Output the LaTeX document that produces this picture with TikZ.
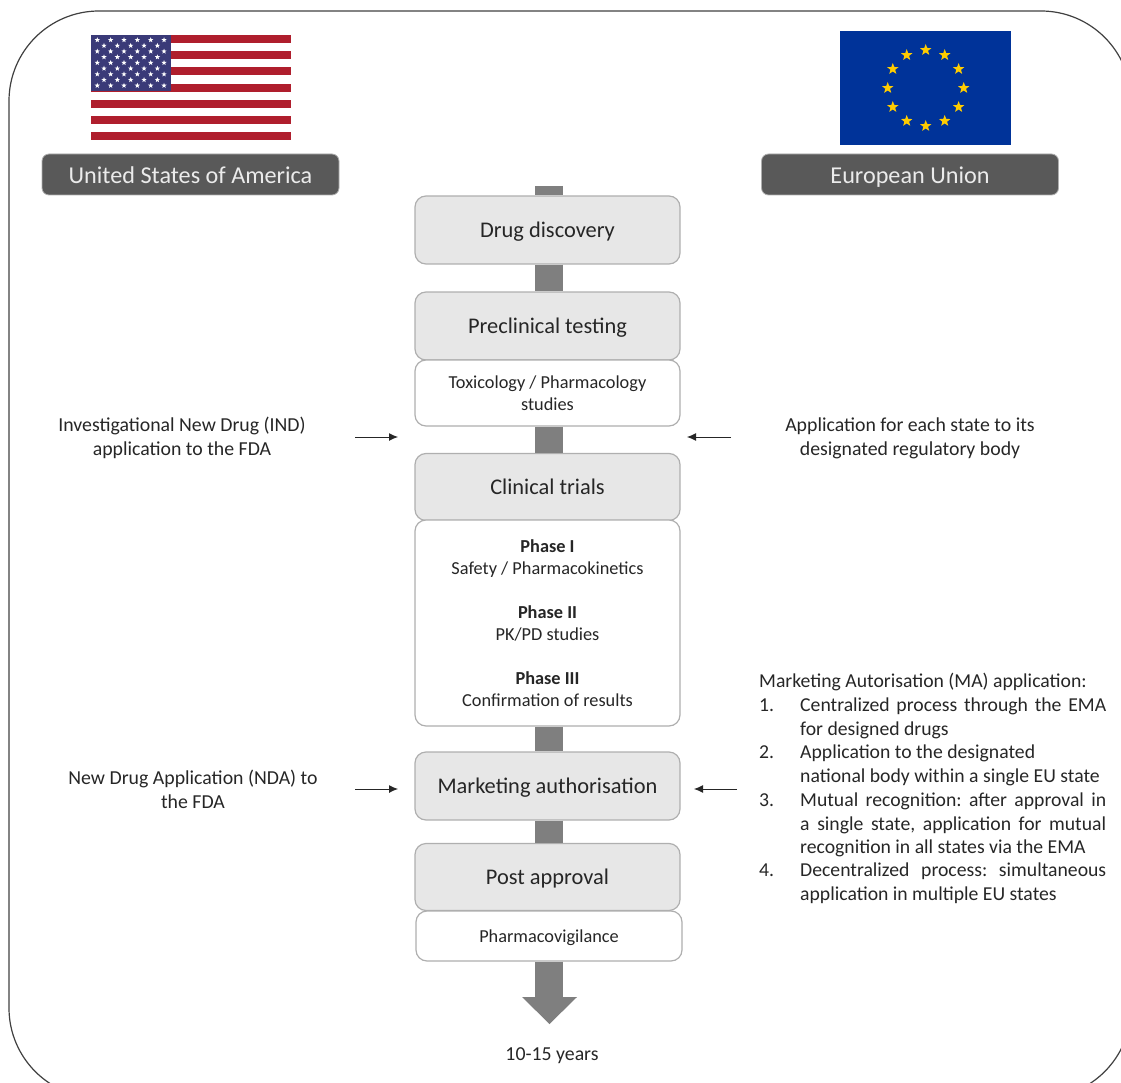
\documentclass[tikz,border=0pt]{standalone}
\usepackage{fontspec}
\setmainfont{Carlito}
\usetikzlibrary{arrows.meta,shapes.geometric}
\definecolor{ink}{HTML}{262626}
\definecolor{stagefill}{HTML}{E7E7E7}
\definecolor{stageline}{HTML}{AFAFAF}
\definecolor{barcol}{HTML}{7F7F7F}
\definecolor{countrydark}{HTML}{595959}
\definecolor{usred}{HTML}{AF1E2D}
\definecolor{usblue}{HTML}{3A3A78}
\definecolor{eublue}{HTML}{003399}
\definecolor{euyellow}{HTML}{FFCC00}
\tikzset{
  x=1pt,y=-1pt,
  stage/.style={draw=stageline,line width=1.2pt,fill=stagefill,rounded corners=11pt,text=ink,font=\fontsize{22.4}{26}\selectfont,minimum width=265pt,minimum height=68pt,inner sep=0pt,align=center,text height=20pt,text depth=5pt},
  detail/.style={draw=stageline,line width=1.2pt,fill=white,rounded corners=11pt,text=ink,font=\fontsize{18.3}{22}\selectfont,minimum width=265pt,inner sep=0pt,align=center},
  country/.style={draw=stageline,line width=.8pt,fill=countrydark,rounded corners=7pt,text=white!92!black,font=\fontsize{24.2}{28}\selectfont,minimum width=297pt,minimum height=41pt,inner sep=0pt,text height=24pt,text depth=5pt},
  note/.style={text=ink,font=\fontsize{19.8}{24.2}\selectfont,align=center,inner sep=0pt},
  listline/.style={text=ink,font=\fontsize{19.7}{22}\selectfont,anchor=base west,inner sep=0pt},
  flow/.style={line width=28pt,draw=barcol},
  pointer/.style={draw=ink,line width=.9pt,-{Latex[length=9pt,width=8pt]}},
  flagstar/.style={fill=#1,draw=none,star,star points=5,star point ratio=2.4,inner sep=0pt}
}
\newcommand{\jline}[2]{\hbox to #1pt{\frenchspacing\spaceskip=.24em plus 3em minus .06em\relax #2}}
\begin{document}
\begin{tikzpicture}
\useasboundingbox (0,0) rectangle (1121,1083);
\clip (0,0) rectangle (1121,1083);
\draw[draw=black!75,line width=1.2pt,rounded corners=90pt] (9,11) rectangle (1131,1098);

% US flag
\foreach \s in {0,...,6}
  \fill[usred] (91,{35+\s*16.2}) rectangle (291,{43.1+\s*16.2});
\fill[usblue] (91,35) rectangle (171,91);
\foreach \r in {0,2,4,6,8}\foreach \c in {0,...,5}
  \node[flagstar=white,minimum size=5.5pt] at ({97.3+\c*13.35},{40+\r*5.7}) {};
\foreach \r in {1,3,5,7}\foreach \c in {0,...,4}
  \node[flagstar=white,minimum size=5.5pt] at ({104+\c*13.35},{40+\r*5.7}) {};
% EU flag
\fill[eublue] (840,31) rectangle (1011,145);
\foreach \a in {0,30,...,330}
  \node[flagstar=euyellow,minimum size=12pt] at ({925.7+38*cos(\a)},{88+38*sin(\a)}) {};

\node[country] (us) at (190.5,174.5) {United States of America};
\node[country] (eu) at (910,174.5) {European Union};

% stages
\node[stage] (drug) at (547.5,230) {Drug discovery};
\node[stage] (pre) at (547.5,326) {Preclinical testing};
\node[detail,minimum height=66pt] (tox) at (547.5,393) {Toxicology / Pharmacology\\studies};
\node[stage,minimum height=67pt] (clin) at (547.5,487) {Clinical trials};
\node[detail,minimum height=206pt] (phases) at (547.5,623) {\textbf{Phase I}\\Safety / Pharmacokinetics\\[22pt]\textbf{Phase II}\\PK/PD studies\\[22pt]\textbf{Phase III}\\Confirmation of results};
\node[stage] (mkt) at (547.5,786) {Marketing authorisation};
\node[stage,minimum height=67pt] (post) at (547.5,877) {Post approval};
\node[detail,minimum height=50pt,minimum width=266pt,text height=17pt,text depth=4pt] (pv) at (549,936) {Pharmacovigilance};
\node[note] (years) at (552,1056) {10-15 years};

% main flow
\coordinate (flowtop) at (549,186);
\coordinate (flowtip) at (549.5,1024);
\draw[flow] (flowtop) -- (flowtop |- drug.north);
\draw[flow] (flowtop |- drug.south) -- (flowtop |- pre.north);
\draw[flow] (flowtop |- tox.south) -- (flowtop |- clin.north);
\draw[flow] (flowtop |- phases.south) -- (flowtop |- mkt.north);
\draw[flow] (flowtop |- mkt.south) -- (flowtop |- post.north);
\draw[flow] (flowtop |- pv.south) -- (549,998);
\fill[barcol] (522,997) -- (577,997) -- (flowtip) -- cycle;

% side notes
\node[note] (ind) at (182,438) {Investigational New Drug (IND)\\application to the FDA};
\node[note] (ema) at (910,438) {Application for each state to its\\designated regulatory body};
\node[note] (nda) at (193,789) {New Drug Application (NDA) to\\the FDA};

\coordinate (indp) at (355,437);
\coordinate (emap) at (731,437);
\coordinate (indt) at (398,437);
\coordinate (emat) at (687,437);
\coordinate (ndap) at (355,789);
\coordinate (ndat) at (398,789);
\coordinate (map) at (737,789);
\coordinate (mat) at (694,789);
\draw[pointer] (indp) -- (indt);
\draw[pointer] (emap) -- (emat);
\draw[pointer] (ndap) -- (ndat);
\draw[pointer] (map) -- (mat);

% marketing list
\node[listline] (ma) at (759,687) {Marketing Autorisation (MA) application:};
\node[listline] (n1) at (759,711) {1.};
\node[listline] (l1a) at (800,711) {\jline{306}{Centralized process through the EMA}};
\node[listline] (l1b) at (800,735) {for designed drugs};
\node[listline] (n2) at (759,758) {2.};
\node[listline] (l2a) at (800,758) {Application to the designated};
\node[listline] (l2b) at (800,782) {national body within a single EU state};
\node[listline] (n3) at (759,806) {3.};
\node[listline] (l3a) at (800,806) {\jline{306}{Mutual recognition: after approval in}};
\node[listline] (l3b) at (800,830) {\jline{306}{a single state, application for mutual}};
\node[listline] (l3c) at (800,853) {recognition in all states via the EMA};
\node[listline] (n4) at (759,876) {4.};
\node[listline] (l4a) at (800,876) {\jline{306}{Decentralized process: simultaneous}};
\node[listline] (l4b) at (800,900) {application in multiple EU states};
\end{tikzpicture}
\end{document}
